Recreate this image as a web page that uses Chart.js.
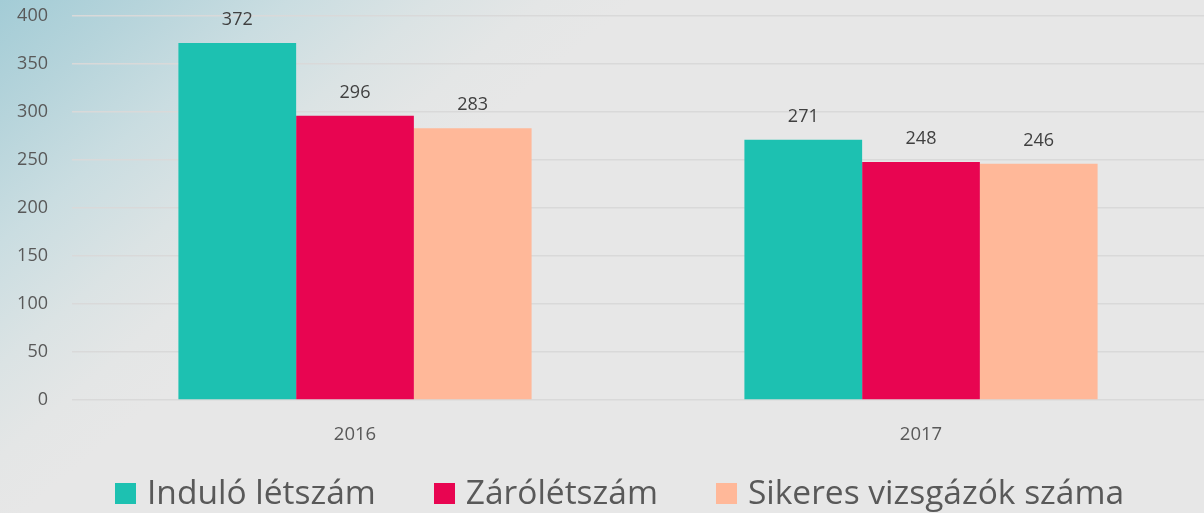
<!DOCTYPE html>
<html><head><meta charset="utf-8">
<script src="https://cdn.jsdelivr.net/npm/chart.js@4/dist/chart.umd.min.js"></script>
<style>
html,body{margin:0;padding:0;width:1204px;height:513px;overflow:hidden;}
body{background:linear-gradient(140deg, #a3ccd6 0%, #b6d4db 8%, #cadde1 16%, #dbe3e4 24%, #e4e6e6 30%, #e7e7e7 35%);position:relative;}
#wrap{position:absolute;left:0;top:0;width:1204px;height:513px;}
#legend{position:absolute;left:115px;top:471px;height:40px;display:flex;align-items:center;
  font-family:'Open Sans','Noto Sans',sans-serif;font-size:33.5px;line-height:40px;color:#595959;white-space:nowrap;}
.item{display:flex;align-items:center;margin-right:58px;}
.box{width:21px;height:21px;margin-right:11px;position:relative;top:2px;}
</style></head>
<body><div id="wrap"><canvas id="c" width="1204" height="513"></canvas></div>
<div id="legend"></div>
<script>
const categories = ['2016', '2017'];
const seriesNames = ['Induló létszám', 'Zárólétszám', 'Sikeres vizsgázók száma'];
const indulo = [372, 271];
const zaro = [296, 248];
const sikeres = [283, 246];
const yTicks = [0, 50, 100, 150, 200, 250, 300, 350, 400];
const colors = ['#1DC1B1', '#E80551', '#FFB899'];

const FONT = "'Open Sans', 'Noto Sans', sans-serif";

const labelPlugin = {
  id: 'valueLabels',
  afterDatasetsDraw(chart) {
    const ctx = chart.ctx;
    ctx.save();
    ctx.font = "18px " + FONT;
    ctx.fillStyle = '#404040';
    ctx.textAlign = 'center';
    ctx.textBaseline = 'middle';
    chart.data.datasets.forEach((ds, i) => {
      chart.getDatasetMeta(i).data.forEach((bar, j) => {
        ctx.fillText(String(ds.data[j]), bar.x, bar.y - 23);
      });
    });
    ctx.restore();
  }
};

const chart = new Chart(document.getElementById('c'), {
  type: 'bar',
  data: {
    labels: categories,
    datasets: [
      { label: seriesNames[0], data: indulo, backgroundColor: colors[0] },
      { label: seriesNames[1], data: zaro, backgroundColor: colors[1] },
      { label: seriesNames[2], data: sikeres, backgroundColor: colors[2] }
    ]
  },
  options: {
    responsive: false,
    animation: false,
    layout: { padding: { top: 16, right: 0, bottom: 53, left: 0 } },
    datasets: { bar: { categoryPercentage: 0.624, barPercentage: 1.0, borderWidth: 0 } },
    scales: {
      x: {
        afterFit: s => { s.height = 60; s.paddingLeft = 0; s.paddingRight = 0; },
        grid: { display: false, drawTicks: false },
        border: { display: false },
        ticks: { color: '#595959', font: { family: FONT, size: 18.5 }, padding: 24 }
      },
      y: {
        min: 0, max: 400,
        afterBuildTicks: s => { s.ticks = yTicks.map(v => ({ value: v })); },
        afterFit: s => { s.width = 72; s.paddingTop = 0; s.paddingBottom = 0; },
        grid: { color: '#d9d9d9', lineWidth: 1.5, drawTicks: false },
        border: { display: false },
        ticks: { color: '#595959', font: { family: FONT, size: 18 }, padding: 24 }
      }
    },
    plugins: {
      legend: { display: false },
      tooltip: { enabled: false }
    }
  },
  plugins: [labelPlugin]
});

const leg = document.getElementById('legend');
chart.data.datasets.forEach(ds => {
  const it = document.createElement('div'); it.className = 'item';
  const b = document.createElement('span'); b.className = 'box'; b.style.background = ds.backgroundColor;
  const t = document.createElement('span'); t.textContent = ds.label;
  it.appendChild(b); it.appendChild(t); leg.appendChild(it);
});
</script></body></html>
